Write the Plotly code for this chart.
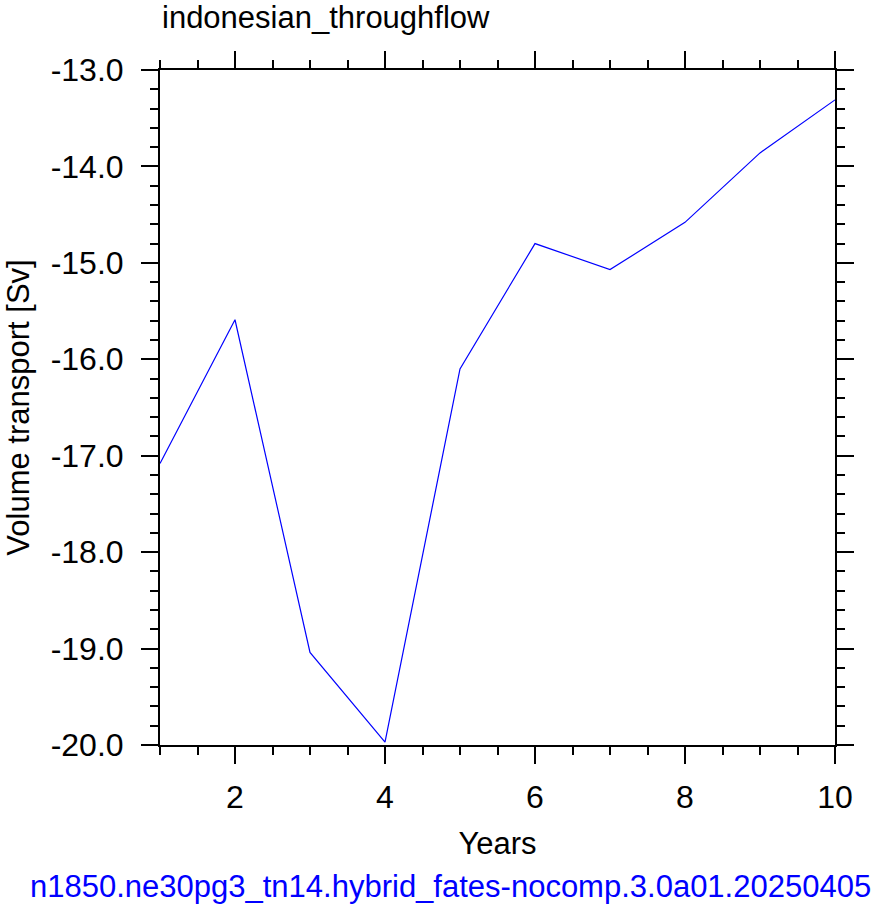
import plotly.graph_objects as go

years = [1, 2, 3, 4, 5, 6, 7, 8, 9, 10]
transport = [-17.08, -15.59, -19.04, -19.97, -16.10, -14.80, -15.07, -14.58, -13.86, -13.31]

y_tickvals = [-20, -19, -18, -17, -16, -15, -14, -13]
y_ticktext = ["-20.0", "-19.0", "-18.0", "-17.0", "-16.0", "-15.0", "-14.0", "-13.0"]
x_tickvals = [2, 4, 6, 8, 10]
x_ticktext = ["2", "4", "6", "8", "10"]

title_text = "indonesian_throughflow"
x_title = "Years"
y_title = "Volume transport [Sv]"
case_text = "n1850.ne30pg3_tn14.hybrid_fates-nocomp.3.0a01.20250405"

FONT = "Liberation Sans, Helvetica, Arial, sans-serif"
FS = 31
TFS = 32

fig = go.Figure()
fig.add_trace(go.Scatter(x=years, y=transport, mode="lines",
                         line=dict(color="#0000ff", width=1.2),
                         showlegend=False))

axis_common = dict(
    showgrid=False, zeroline=False,
    showline=True, linecolor="black", linewidth=2,
    mirror="ticks", ticks="outside", ticklen=17, tickwidth=2, tickcolor="black",
    tickfont=dict(family=FONT, size=TFS, color="black"),
)

fig.update_xaxes(range=[1, 10], tickmode="array", tickvals=x_tickvals, ticktext=x_ticktext,
                 ticklabelstandoff=6,
                 minor=dict(tickmode="linear", tick0=1, dtick=0.5, ticklen=8, tickwidth=1.5,
                            tickcolor="black", ticks="outside"),
                 title=dict(text=x_title, font=dict(family=FONT, size=FS, color="black"), standoff=18),
                 **axis_common)
fig.update_yaxes(range=[-20, -13], tickmode="array", tickvals=y_tickvals, ticktext=y_ticktext,
                 ticklabelstandoff=11,
                 minor=dict(tickmode="linear", tick0=-20, dtick=0.2, ticklen=8, tickwidth=1.5,
                            tickcolor="black", ticks="outside"),
                 title=dict(text=y_title, font=dict(family=FONT, size=FS, color="black"), standoff=12),
                 **axis_common)

fig.update_layout(
    width=875, height=912,
    margin=dict(l=160, r=40, t=70, b=167, pad=0),
    paper_bgcolor="white", plot_bgcolor="white",
    font=dict(family=FONT, size=FS, color="black"),
    annotations=[
        dict(text=title_text, xref="paper", yref="paper", x=0, y=1 + 52.5 / 675,
             xanchor="left", yanchor="middle", showarrow=False,
             font=dict(family=FONT, size=FS, color="black")),
        dict(text=case_text, xref="paper", yref="paper", x=(450 - 160) / 675, y=-(887 - 745.5) / 675,
             xanchor="center", yanchor="middle", showarrow=False,
             font=dict(family=FONT, size=FS, color="#0000ff")),
    ],
)

fig.write_html("out.html")
